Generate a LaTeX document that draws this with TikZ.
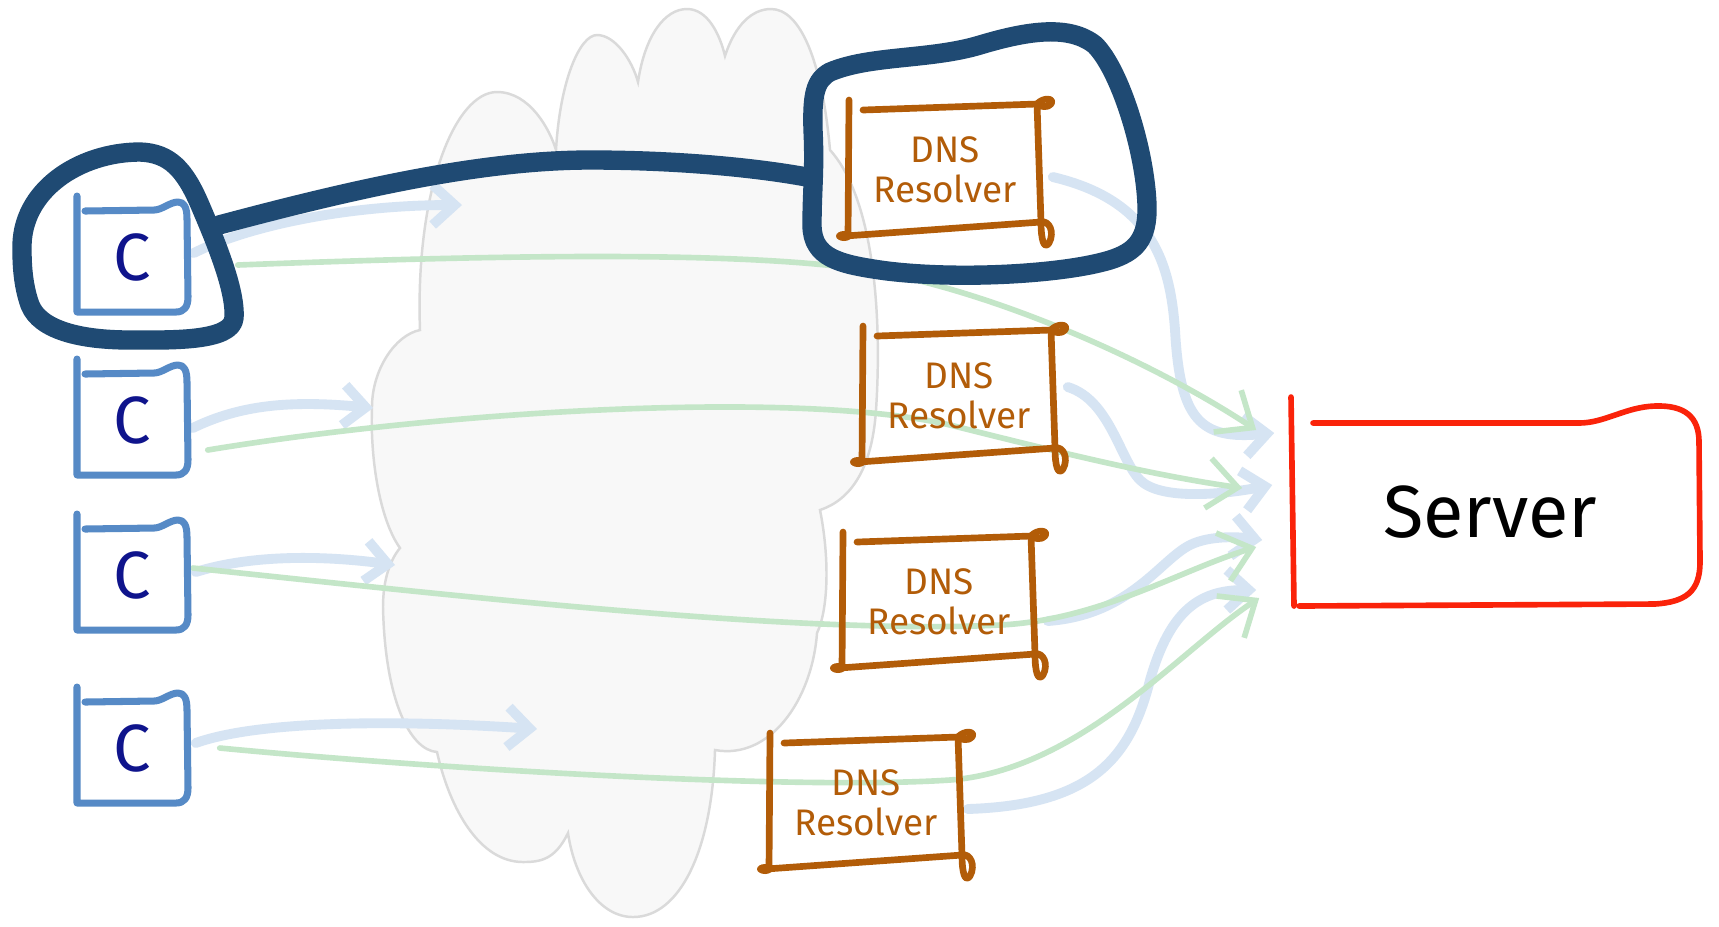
\documentclass[tikz,border=0pt]{standalone}
\usepackage{fontspec}
\setmainfont{Fira Sans}
\usepackage{xcolor}
\usepackage{tikz}
\usetikzlibrary{arrows.meta}
\usetikzlibrary{backgrounds}
\tikzset{>={Straight Barb[length=2.2mm,width=4mm]}}

\definecolor{clientblue}{RGB}{86,138,198}
\definecolor{cnavy}{RGB}{15,20,140}
\definecolor{blobblue}{RGB}{31,74,115}
\definecolor{rbrown}{RGB}{178,92,8}
\definecolor{serverred}{RGB}{250,35,10}
\definecolor{reqblue}{RGB}{214,228,243}
\definecolor{replygreen}{RGB}{196,230,200}
\definecolor{cloudfill}{RGB}{248,248,248}
\definecolor{cloudline}{RGB}{218,218,218}

\begin{document}
\begin{tikzpicture}[
        x=0.01cm, y=-0.01cm,
        client/.style={minimum width=1.1cm, minimum height=1.1cm, inner sep=0pt,
            text=cnavy, font=\fontsize{19}{19}\selectfont},
        clientline/.style={draw=clientblue, line width=2pt, line cap=round, line join=round},
        resolver/.style={minimum width=1.9cm, minimum height=1.3cm, inner sep=0pt,
            align=center, text=rbrown, font=\fontsize{10.5}{11.5}\selectfont},
        resolverline/.style={draw=rbrown, line width=1.9pt, line cap=round, line join=round},
        serverbox/.style={minimum width=4.1cm, minimum height=2.1cm, inner sep=0pt,
            font=\fontsize{21}{21}\selectfont},
        blobline/.style={draw=blobblue, line width=5.5pt, line cap=round, line join=round},
        request/.style={draw=reqblue, line width=2.8pt, line cap=round, ->},
        reply/.style={draw=replygreen, line width=1.6pt, line cap=round,
            -{Straight Barb[length=3mm,width=5mm]}},
        cloud/.style={fill=cloudfill, draw=cloudline, line width=0.7pt},
    ]
        \useasboundingbox (0,0) rectangle (1719,926);

        % clients
        \node[client] (c1) at (132,257) {C};
        \node[client] (c2) at (132,420) {C};
        \node[client] (c3) at (132,575) {C};
        \node[client] (c4) at (132,748) {C};

        % resolvers
        \node[resolver] (r1) at (945,170) {DNS\\Resolver};
        \node[resolver] (r2) at (959,396) {DNS\\Resolver};
        \node[resolver] (r3) at (939,602) {DNS\\Resolver};
        \node[resolver] (r4) at (866,803) {DNS\\Resolver};

        % server
        \node[serverbox] (server) at (1490,512) {Server};

        \coordinate (req1) at (462,205);
        \coordinate (req2) at (373,408);
        \coordinate (req3) at (395,565);
        \coordinate (req4) at (537,729);

        \begin{scope}[on background layer]
        \fill[white] (0,0) rectangle (1719,926);

        % internet cloud
        \filldraw[cloud] (420,330)
            .. controls (415,190) and (455,92) .. (497,92)
            .. controls (530,92) and (550,130) .. (556,150)
            .. controls (560,80) and (580,35) .. (597,35)
            .. controls (615,35) and (632,60) .. (638,82)
            .. controls (645,35) and (665,9) .. (687,9)
            .. controls (708,9) and (720,35) .. (725,56)
            .. controls (735,25) and (752,9) .. (771,9)
            .. controls (800,9) and (822,60) .. (830,150)
            .. controls (875,200) and (882,320) .. (876,410)
            .. controls (872,470) and (850,500) .. (820,510)
            .. controls (830,560) and (828,610) .. (817,633)
            .. controls (812,700) and (770,760) .. (715,750)
            .. controls (712,850) and (680,917) .. (633,917)
            .. controls (600,917) and (575,880) .. (568,833)
            .. controls (555,860) and (540,862) .. (523,862)
            .. controls (480,862) and (450,810) .. (437,752)
            .. controls (410,750) and (385,700) .. (383,607)
            .. controls (383,580) and (390,560) .. (400,548)
            .. controls (380,520) and (370,460) .. (372,407)
            .. controls (372,370) and (395,335) .. (420,330) -- cycle;

        % queries into the cloud
        \draw[request] ([shift={(6,-4)}]c1.east) .. controls (250,225) and (350,205) .. (req1);
        \draw[request] ([shift={(5,8)}]c2.east) .. controls (240,405) and (290,400) .. (req2);
        \draw[request] ([shift={(8,-3)}]c3.east) .. controls (250,555) and (320,555) .. (req3);
        \draw[request] ([shift={(8,-5)}]c4.east) .. controls (260,720) and (400,720) .. (req4);

        % resolvers to server
        \draw[request] ([shift={(12,7)}]r1.east) .. controls (1150,200) and (1170,260) .. (1175,330)
            .. controls (1180,420) and (1200,440) .. ([shift={(-10,-79)}]server.west);
        \draw[request] ([shift={(13,-9)}]r2.east) .. controls (1110,400) and (1120,460) .. (1140,480)
            .. controls (1160,500) and (1220,495) .. ([shift={(-12,-27)}]server.west);
        \draw[request] ([shift={(13,19)}]r3.east) .. controls (1130,615) and (1160,560) .. (1190,545)
            .. controls (1210,535) and (1240,537) .. ([shift={(-22,28)}]server.west);
        \draw[request] ([shift={(6,6)}]r4.east) .. controls (1090,805) and (1130,760) .. (1150,680)
            .. controls (1170,610) and (1200,590) .. ([shift={(-28,78)}]server.west);

        % clients straight to server
        \draw[reply] ([shift={(50,8)}]c1.east) .. controls (500,255) and (750,250) .. (880,272)
            .. controls (1000,295) and (1150,360) .. ([shift={(-28,-82)}]server.west);
        \draw[reply] ([shift={(20,30)}]c2.east) .. controls (450,410) and (800,390) .. (950,425)
            .. controls (1050,450) and (1150,475) .. ([shift={(-42,-24)}]server.west);
        \draw[reply] ([shift={(5,-7)}]c3.east) .. controls (450,595) and (800,635) .. (1000,625)
            .. controls (1100,620) and (1180,570) .. ([shift={(-28,35)}]server.west);
        \draw[reply] ([shift={(32,0)}]c4.east) .. controls (450,770) and (800,790) .. (950,780)
            .. controls (1080,770) and (1180,650) .. ([shift={(-25,86)}]server.west);
        \end{scope}

        % client outlines
        \draw[clientline, shift={(c1.center)}] (-55,-61) -- (-55,55) -- (44,55) .. controls (52,55) and (56,50) .. (56,40)
            -- (55,-38) .. controls (55,-50) and (52,-55) .. (46,-55) .. controls (38,-55) and (30,-47) .. (22,-47) -- (-47,-46);
        \draw[clientline, shift={(c2.center)}] (-55,-61) -- (-55,55) -- (44,55) .. controls (52,55) and (56,50) .. (56,40)
            -- (55,-38) .. controls (55,-50) and (52,-55) .. (46,-55) .. controls (38,-55) and (30,-47) .. (22,-47) -- (-47,-46);
        \draw[clientline, shift={(c3.center)}] (-55,-61) -- (-55,55) -- (44,55) .. controls (52,55) and (56,50) .. (56,40)
            -- (55,-38) .. controls (55,-50) and (52,-55) .. (46,-55) .. controls (38,-55) and (30,-47) .. (22,-47) -- (-47,-46);
        \draw[clientline, shift={(c4.center)}] (-55,-61) -- (-55,55) -- (44,55) .. controls (52,55) and (56,50) .. (56,40)
            -- (55,-38) .. controls (55,-50) and (52,-55) .. (46,-55) .. controls (38,-55) and (30,-47) .. (22,-47) -- (-47,-46);

        % resolver outlines
        \draw[resolverline, shift={(r1.center)}] (-96,-70) -- (-97,66);
        \draw[resolverline, shift={(r1.center)}] (-82,-60) -- (92,-66) .. controls (98,-73) and (110,-72) .. (106,-66)
            .. controls (103,-62) and (95,-63) .. (92,-66) -- (96,52) .. controls (104,50) and (110,62) .. (104,73)
            .. controls (99,80) and (96,70) .. (96,52) -- (-100,66);
        \fill[rbrown, shift={(r1.center)}] (-101,66) ellipse (8 and 5);

        \draw[resolverline, shift={(r2.center)}] (-96,-70) -- (-97,66);
        \draw[resolverline, shift={(r2.center)}] (-82,-60) -- (92,-66) .. controls (98,-73) and (110,-72) .. (106,-66)
            .. controls (103,-62) and (95,-63) .. (92,-66) -- (96,52) .. controls (104,50) and (110,62) .. (104,73)
            .. controls (99,80) and (96,70) .. (96,52) -- (-100,66);
        \fill[rbrown, shift={(r2.center)}] (-101,66) ellipse (8 and 5);

        \draw[resolverline, shift={(r3.center)}] (-96,-70) -- (-97,66);
        \draw[resolverline, shift={(r3.center)}] (-82,-60) -- (92,-66) .. controls (98,-73) and (110,-72) .. (106,-66)
            .. controls (103,-62) and (95,-63) .. (92,-66) -- (96,52) .. controls (104,50) and (110,62) .. (104,73)
            .. controls (99,80) and (96,70) .. (96,52) -- (-100,66);
        \fill[rbrown, shift={(r3.center)}] (-101,66) ellipse (8 and 5);

        \draw[resolverline, shift={(r4.center)}] (-96,-70) -- (-97,66);
        \draw[resolverline, shift={(r4.center)}] (-82,-60) -- (92,-66) .. controls (98,-73) and (110,-72) .. (106,-66)
            .. controls (103,-62) and (95,-63) .. (92,-66) -- (96,52) .. controls (104,50) and (110,62) .. (104,73)
            .. controls (99,80) and (96,70) .. (96,52) -- (-100,66);
        \fill[rbrown, shift={(r4.center)}] (-101,66) ellipse (8 and 5);

        % server outline
        \draw[draw=serverred, line width=1.6pt, line cap=round, line join=round] (1291,397) -- (1294,606);
        \draw[draw=serverred, line width=1.6pt, line cap=round, line join=round] (1313,423) -- (1579,423)
            .. controls (1605,423) and (1625,407) .. (1655,406) .. controls (1685,405) and (1699,417) .. (1699,442)
            -- (1700,562) .. controls (1700,592) and (1685,602) .. (1655,604) -- (1299,606);

        % highlighted client and its resolver
        \coordinate (knob) at (219,225);
        \coordinate (dnsknob) at (812,178);
        \draw[blobline] (22,250) .. controls (20,190) and (80,152) .. (140,152) .. controls (170,153) and (185,170) .. (200,205)
            .. controls (215,240) and (236,290) .. (234,318) .. controls (232,342) and (170,340) .. (130,340)
            .. controls (80,340) and (40,330) .. (30,305) .. controls (24,288) and (22,270) .. (22,250) -- cycle;
        \draw[blobline] (830,72) .. controls (870,55) and (930,60) .. (980,45) .. controls (1030,30) and (1070,25) .. (1095,45)
            .. controls (1120,70) and (1145,150) .. (1147,205) .. controls (1148,240) and (1135,252) .. (1110,260)
            .. controls (1060,275) and (950,280) .. (880,270) .. controls (840,264) and (812,258) .. (812,225)
            .. controls (812,190) and (815,170) .. (813,130) .. controls (812,95) and (815,80) .. (830,72) -- cycle;
        \draw[blobline] (knob) .. controls (350,190) and (480,160) .. (590,160) .. controls (680,160) and (760,168) .. (dnsknob);
    \end{tikzpicture}
\end{document}
